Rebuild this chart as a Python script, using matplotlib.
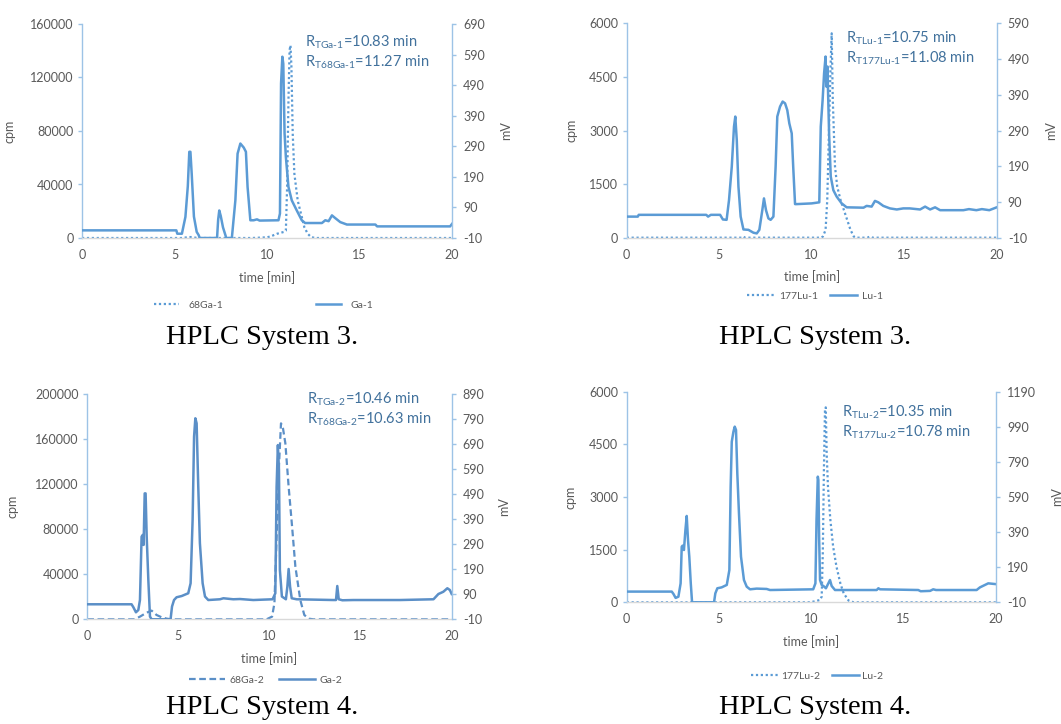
import matplotlib
matplotlib.use("Agg")
import matplotlib.pyplot as plt

plt.rcParams['font.family'] = ['Lato', 'DejaVu Sans']
plt.rcParams['mathtext.fontset'] = 'custom'
plt.rcParams['mathtext.rm'] = 'Lato'
plt.rcParams['mathtext.it'] = 'Lato:italic'
plt.rcParams['mathtext.bf'] = 'Lato:bold'

# ---------------- data ----------------
# HPLC System 3, gallium complex: radio trace (cpm) and UV trace (mV)
t_68ga1 = [0, 5.5, 5.7, 6.0, 6.2, 9.2, 10.0, 10.2, 10.55, 10.9, 11.02, 11.09, 11.16, 11.22,
           11.27, 11.32, 11.39, 11.48, 11.66, 11.84, 12.02, 12.2, 12.38, 12.6, 20]
cpm_68ga1 = [0, 0, 700, 700, 0, 0, 500, 1200, 3200, 4500, 5500, 40000, 103000, 140500,
             144000, 128000, 78000, 48000, 28000, 18000, 8000, 3200, 700, 0, 0]
t_ga1 = [0, 5.1, 5.15, 5.4, 5.59, 5.72, 5.8, 5.86, 5.93, 6.05, 6.2, 6.31, 6.36, 7.3, 7.36,
         7.42, 7.5, 7.62, 7.8, 8.1, 8.29, 8.41, 8.56, 8.74, 8.86, 8.95, 9.1, 9.28, 9.46, 9.6,
         10.62, 10.7, 10.76, 10.83, 10.88, 10.95, 11.02, 11.16, 11.34, 11.61, 11.88, 12.06,
         12.97, 13.15, 13.33, 13.51, 13.69, 13.96, 14.32, 15.86, 15.95, 19.9, 20]
mv_ga1 = [15, 15, 4, 4, 59, 160, 272, 272, 200, 60, 10, -1, -10, -10, 50,
          80, 62, 25, -10, -10, 113, 266, 299, 286, 272, 157, 48, 48, 51, 47,
          48, 70, 496, 583, 560, 332, 255, 157, 113, 80, 48, 39,
          39, 48, 45, 64, 55, 42, 34, 34, 28, 28, 36]

# HPLC System 3, lutetium complex
t_177lu1 = [0, 6.2, 6.3, 6.4, 10.5, 10.6, 10.75, 10.84, 10.93, 11.02, 11.08, 11.14, 11.26,
            11.38, 11.56, 11.74, 11.92, 12.1, 12.28, 12.4, 13.0, 13.15, 13.3, 20]
cpm_177lu1 = [0, 0, 30, 0, 0, 28, 215, 1054, 2920, 4787, 5720, 3853, 1988,
              1428, 1054, 775, 495, 215, 28, 0, 0, 30, 0, 0]
t_lu1 = [0, 0.6, 0.65, 4.3, 4.4, 4.55, 5.05, 5.2, 5.4, 5.53, 5.68, 5.8, 5.87, 5.95, 6.04,
         6.16, 6.31, 6.58, 6.85, 7.03, 7.17, 7.33, 7.42, 7.53, 7.66, 7.78, 7.93, 8.05, 8.14,
         8.29, 8.43, 8.56, 8.68, 8.79, 8.92, 9.0, 9.1, 9.19, 10.0, 10.41, 10.49, 10.59, 10.67,
         10.75, 10.79, 10.85, 10.94, 11.03, 11.17, 11.35, 11.62, 11.89, 12.8, 12.97, 13.24,
         13.42, 13.6, 13.87, 14.23, 14.6, 14.95, 15.3, 15.86, 16.13, 16.4, 16.67, 16.94,
         18.2, 18.5, 18.9, 19.2, 19.6, 20]
mv_lu1 = [49, 49, 54, 54, 49, 54, 54, 41, 40, 95, 189, 301, 329, 263, 133,
          49, 13, 12, 4, 2, 12, 67, 100, 67, 44, 40, 49, 189, 329,
          357, 371, 366, 347, 310, 282, 189, 84, 84, 86, 89, 301, 375, 450,
          497, 413, 469, 282, 161, 123, 105, 86, 75, 74, 79, 77,
          93, 89, 79, 72, 69, 72, 72, 69, 77, 69, 75, 67,
          67, 70, 67, 70, 67, 75]

# HPLC System 4, gallium complex
t_68ga2 = [0, 2.6, 2.89, 3.26, 3.53, 3.8, 4.08, 4.35, 4.6, 9.84, 10.14, 10.27, 10.38, 10.51,
           10.63, 10.74, 10.87, 11.05, 11.24, 11.42, 11.69, 11.91, 12.15, 12.4, 20]
cpm_68ga2 = [0, 0, 2367, 5917, 7692, 3846, 1775, 592, 0, 0, 2367, 14201, 67456, 132544,
             173964, 169527, 156213, 117751, 82249, 46746, 17160, 3846, 592, 0, 0]
t_ga2 = [0, 2.43, 2.53, 2.67, 2.8, 2.89, 2.98, 3.04, 3.09, 3.15, 3.2, 3.26, 3.35, 3.44, 3.53,
         4.57, 4.65, 4.76, 4.9, 5.18, 5.54, 5.67, 5.78, 5.86, 5.93, 6.0, 6.09, 6.18, 6.33,
         6.46, 6.64, 7.28, 7.47, 8.01, 8.38, 9.11, 10.17, 10.32, 10.39, 10.46, 10.52, 10.57,
         10.68, 10.9, 10.98, 11.05, 11.13, 11.22, 11.49, 13.5, 13.65, 13.72, 13.8, 14.0, 14.6,
         15.33, 17.16, 19.0, 19.27, 19.54, 19.76, 19.9, 20]
mv_ga2 = [50, 50, 38, 18, 27, 67, 320, 327, 287, 493, 493, 320, 147, 1, -10,
          -10, 41, 67, 78, 83, 94, 134, 387, 720, 793, 773, 520, 294, 134,
          81, 67, 70, 74, 70, 71, 67, 70, 94, 520, 686, 587, 187,
          81, 70, 120, 191, 120, 74, 70, 67, 67, 123, 70, 66, 67,
          67, 67, 70, 91, 100, 114, 107, 91]

# HPLC System 4, lutetium complex
t_177lu2 = [0, 9.93, 10.11, 10.32, 10.47, 10.56, 10.62, 10.68, 10.74, 10.78, 10.83, 10.9,
            11.03, 11.18, 11.36, 11.57, 11.75, 12.02, 12.29, 20]
cpm_177lu2 = [0, 0, 19, 47, 66, 161, 1396, 3769, 5525, 5554, 4244, 3294,
              2345, 1586, 1016, 541, 256, 47, 0, 0]
t_lu2 = [0, 2.44, 2.53, 2.65, 2.8, 2.92, 2.98, 3.03, 3.1, 3.18, 3.25, 3.32, 3.39, 3.47, 3.54,
         4.73, 4.8, 4.91, 5.14, 5.42, 5.56, 5.63, 5.69, 5.78, 5.85, 5.92, 5.99, 6.08, 6.19,
         6.35, 6.5, 6.68, 7.04, 7.58, 7.76, 10.1, 10.22, 10.28, 10.35, 10.38, 10.42, 10.47,
         10.56, 10.65, 10.79, 10.92, 11.01, 11.1, 11.28, 13.54, 13.63, 13.72, 15.79, 15.92,
         16.43, 16.6, 16.75, 18.95, 19.13, 19.58, 19.95]
mv_lu2 = [51, 51, 38, 15, 22, 98, 307, 313, 288, 402, 482, 345, 250, 98, -10,
          -10, 41, 70, 75, 89, 174, 649, 905, 962, 991, 972, 725, 497, 250,
          117, 79, 64, 68, 66, 60, 64, 98, 459, 706, 687, 364, 117,
          89, 83, 70, 98, 117, 83, 60, 60, 70, 64, 60, 53,
          55, 64, 60, 60, 75, 98, 94]

x_ticks = [0, 5, 10, 15, 20]
cpm_ticks_ga1 = [0, 40000, 80000, 120000, 160000]
mv_ticks_ga1 = [-10, 90, 190, 290, 390, 490, 590, 690]
cpm_ticks_lu1 = [0, 1500, 3000, 4500, 6000]
mv_ticks_lu1 = [-10, 90, 190, 290, 390, 490, 590]
cpm_ticks_ga2 = [0, 40000, 80000, 120000, 160000, 200000]
mv_ticks_ga2 = [-10, 90, 190, 290, 390, 490, 590, 690, 790, 890]
cpm_ticks_lu2 = [0, 1500, 3000, 4500, 6000]
mv_ticks_lu2 = [-10, 190, 390, 590, 790, 990, 1190]

# ---------------- figure ----------------
W, H = 1061, 724
fig = plt.figure(figsize=(W / 100, H / 100), dpi=100)

TICK_GREY = '#595959'
AXIS_BLUE = '#9DC3E6'
NOTE_BLUE = '#41719C'
DOTS = (0, (1, 1.2))


def fx(px):
    return px / W


def fy(py):
    return 1 - py / H


def panel(box, t_rad, cpm, t_uv, mv, cpm_ticks, mv_ticks, names, color, rad_style,
          notes, note_x, note_y, lab_x, leg_xy, leg_kw, dotted_left=False):
    left, top, right, bottom = box
    ax = fig.add_axes([fx(left), fy(bottom), fx(right - left), (bottom - top) / H])
    ax2 = ax.twinx()

    l_rad, = ax.plot(t_rad, cpm, color=color, lw=1.6, linestyle=rad_style)
    l_uv, = ax2.plot(t_uv, mv, color=color, lw=1.8, solid_joinstyle='round')

    ax.set_xlim(0, 20)
    ax.set_ylim(cpm_ticks[0], cpm_ticks[-1])
    ax2.set_ylim(mv_ticks[0], mv_ticks[-1])
    ax.set_xticks(x_ticks)
    ax.set_xticklabels([str(v) for v in x_ticks])
    ax.set_yticks(cpm_ticks)
    ax.set_yticklabels([str(v) for v in cpm_ticks])
    ax2.set_yticks(mv_ticks)
    ax2.set_yticklabels([str(v) for v in mv_ticks])

    for a in (ax, ax2):
        for s in a.spines.values():
            s.set_visible(False)
    ax.spines['left'].set_visible(True)
    ax.spines['left'].set_color(AXIS_BLUE)
    ax.spines['left'].set_linewidth(1.0)
    if dotted_left:
        ax.spines['left'].set_linestyle((0, (1, 1)))
    ax.spines['bottom'].set_visible(True)
    ax.spines['bottom'].set_color('#D9D9D9')
    ax.spines['bottom'].set_linewidth(1.0)
    ax2.spines['right'].set_visible(True)
    ax2.spines['right'].set_color(AXIS_BLUE)
    ax2.spines['right'].set_linewidth(1.0)

    ax.tick_params(axis='x', length=0, pad=8, labelsize=9, labelcolor=TICK_GREY)
    ax.tick_params(axis='y', direction='out', length=3, width=1, color=AXIS_BLUE,
                   pad=3, labelsize=9, labelcolor=TICK_GREY)
    ax2.tick_params(axis='y', direction='out', length=3, width=1, color=AXIS_BLUE,
                    pad=5, labelsize=9, labelcolor=TICK_GREY)

    ax.set_xlabel('time [min]', fontsize=9, color=TICK_GREY, labelpad=7)
    ax.set_ylabel('cpm', fontsize=9, color=TICK_GREY)
    ax2.set_ylabel('mV', fontsize=9, color=TICK_GREY)
    ax.yaxis.set_label_coords(lab_x[0], 0.5)
    ax2.yaxis.set_label_coords(lab_x[1], 0.5)

    for txt, ny in zip(notes, note_y):
        ax.text(note_x, ny, txt, transform=ax.transAxes, fontsize=10.5, color=NOTE_BLUE,
                ha='left', va='center')

    ax.legend([l_rad, l_uv], names, loc='center',
              bbox_to_anchor=(fx(leg_xy[0]), fy(leg_xy[1])), bbox_transform=fig.transFigure,
              ncol=2, frameon=False, fontsize=7.5, labelcolor=TICK_GREY, borderpad=0,
              **leg_kw)
    return ax, ax2


BLUE = '#5B9BD5'
BLUE4 = '#5B8FC7'

panel((82, 24, 452, 238), t_68ga1, cpm_68ga1, t_ga1, mv_ga1,
      cpm_ticks_ga1, mv_ticks_ga1, ['68Ga-1', 'Ga-1'], BLUE, DOTS,
      [r'$\mathregular{R_{TGa‐1}}$=10.83 min', r'$\mathregular{R_{T68Ga‐1}}$=11.27 min'],
      0.603, [0.916, 0.822], (-0.181, 1.13), (263.5, 305),
      dict(handlelength=2.4, handletextpad=0.9, columnspacing=8.9))

panel((626.7, 23.3, 996.7, 237.7), t_177lu1, cpm_177lu1, t_lu1, mv_lu1,
      cpm_ticks_lu1, mv_ticks_lu1, ['177Lu-1', 'Lu-1'], BLUE, DOTS,
      [r'$\mathregular{R_{TLu‐1}}$=10.75 min', r'$\mathregular{R_{T177Lu‐1}}$=11.08 min'],
      0.593, [0.930, 0.837], (-0.132, 1.13), (815, 296),
      dict(handlelength=2.6, handletextpad=0.5, columnspacing=1.1))

panel((87.3, 394, 451.7, 619.3), t_68ga2, cpm_68ga2, t_ga2, mv_ga2,
      cpm_ticks_ga2, mv_ticks_ga2, ['68Ga-2', 'Ga-2'], BLUE4, (0, (3, 1.6)),
      [r'$\mathregular{R_{TGa‐2}}$=10.46 min', r'$\mathregular{R_{T68Ga‐2}}$=10.63 min'],
      0.603, [0.976, 0.888], (-0.189, 1.127), (265.5, 680),
      dict(handlelength=3.5, handletextpad=0.4, columnspacing=1.4), dotted_left=True)

panel((626.7, 391.7, 996, 602.3), t_177lu2, cpm_177lu2, t_lu2, mv_lu2,
      cpm_ticks_lu2, mv_ticks_lu2, ['177Lu-2', 'Lu-2'], BLUE, DOTS,
      [r'$\mathregular{R_{TLu‐2}}$=10.35 min', r'$\mathregular{R_{T177Lu‐2}}$=10.78 min'],
      0.583, [0.904, 0.809], (-0.135, 1.148), (817, 676),
      dict(handlelength=2.6, handletextpad=0.3, columnspacing=1.1))

for cx, cy, cap in [(262.5, 338, 'HPLC System 3.'), (815, 338, 'HPLC System 3.'),
                    (262.5, 708, 'HPLC System 4.'), (815, 708, 'HPLC System 4.')]:
    fig.text(fx(cx), fy(cy), cap, fontfamily='Liberation Serif', fontsize=20.5,
             ha='center', va='center', color='black')

fig.savefig('out.png', dpi=100)
